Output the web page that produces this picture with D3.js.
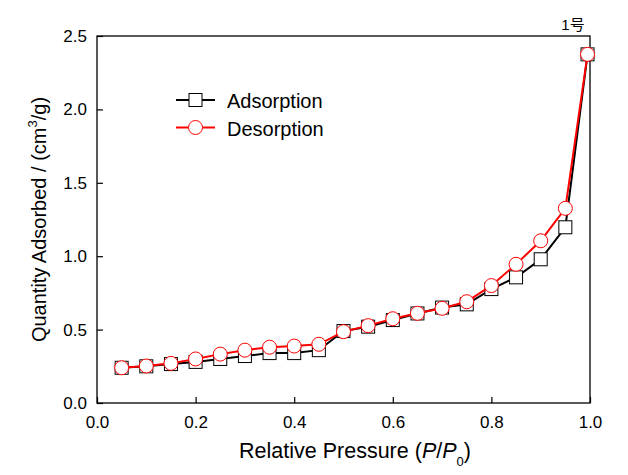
<!DOCTYPE html>
<style>
body { margin: 0; padding: 0; background: #fff; }
text { font-family: "Liberation Sans", Arial, sans-serif; fill: #000; }
</style>
<svg width="628" height="475"></svg>
<script src="https://cdn.jsdelivr.net/npm/d3@7"></script>
<script>

// relative pressure P/P0
var pressure = [0.05, 0.10, 0.15, 0.20, 0.25, 0.30, 0.35, 0.40, 0.45, 0.50,
                0.55, 0.60, 0.65, 0.70, 0.75, 0.80, 0.85, 0.90, 0.95, 0.995];
var adsorption = [0.24, 0.25, 0.265, 0.28, 0.30, 0.32, 0.34, 0.34, 0.36, 0.49,
                  0.52, 0.565, 0.61, 0.65, 0.672, 0.776, 0.856, 0.979, 1.197, 2.375];
var desorption = [0.24, 0.252, 0.27, 0.30, 0.333, 0.36, 0.38, 0.388, 0.40, 0.486,
                  0.527, 0.574, 0.611, 0.645, 0.69, 0.80, 0.945, 1.105, 1.326, 2.375];
var xTicks = [0, 0.2, 0.4, 0.6, 0.8, 1.0];
var yTicks = [0, 0.5, 1.0, 1.5, 2.0, 2.5];
var seriesNames = ["Adsorption", "Desorption"];

var svg = d3.select("svg"),
    margin = {top: 36, right: 38, bottom: 72, left: 97},
    width = +svg.attr("width") - margin.left - margin.right,
    height = +svg.attr("height") - margin.top - margin.bottom,
    g = svg.append("g").attr("transform", "translate(" + margin.left + "," + margin.top + ")");

var x = d3.scaleLinear().domain([0, 1]).range([0, width]);
var y = d3.scaleLinear().domain([0, 2.5]).range([height, 0]);

// frame
g.append("rect")
    .attr("width", width)
    .attr("height", height)
    .attr("fill", "none")
    .attr("stroke", "#000")
    .attr("stroke-width", 1.3);

var xAxis = g.append("g")
    .attr("transform", "translate(0," + height + ")")
    .call(d3.axisBottom(x).tickValues(xTicks).tickFormat(d3.format(".1f")).tickSizeInner(-6).tickSizeOuter(0).tickPadding(13));
var yAxis = g.append("g")
    .call(d3.axisLeft(y).tickValues(yTicks).tickFormat(d3.format(".1f")).tickSizeInner(-6).tickSizeOuter(0).tickPadding(10));

[xAxis, yAxis].forEach(function(a) {
  a.select(".domain").remove();
  a.selectAll("line").attr("stroke", "#000").attr("stroke-width", 1.2);
  a.selectAll("text").attr("font-size", 17).attr("font-family", "Liberation Sans, Arial, sans-serif").attr("fill", "#000");
});

var line = d3.line()
    .x(function(d) { return x(d[0]); })
    .y(function(d) { return y(d[1]); });

var adsData = pressure.map(function(p, i) { return [p, adsorption[i]]; });
var desData = pressure.map(function(p, i) { return [p, desorption[i]]; });

g.append("path")
    .datum(adsData)
    .attr("d", line)
    .attr("fill", "none")
    .attr("stroke", "#000")
    .attr("stroke-width", 2);

g.selectAll(".sq")
    .data(adsData)
    .enter().append("rect")
      .attr("class", "sq")
      .attr("x", function(d) { return x(d[0]) - 6.5; })
      .attr("y", function(d) { return y(d[1]) - 6.5; })
      .attr("width", 13)
      .attr("height", 13)
      .attr("fill", "#fff")
      .attr("stroke", "#000")
      .attr("stroke-width", 1);

g.append("path")
    .datum(desData)
    .attr("d", line)
    .attr("fill", "none")
    .attr("stroke", "#ff0000")
    .attr("stroke-width", 2);

g.selectAll(".ci")
    .data(desData)
    .enter().append("circle")
      .attr("class", "ci")
      .attr("cx", function(d) { return x(d[0]); })
      .attr("cy", function(d) { return y(d[1]); })
      .attr("r", 7)
      .attr("fill", "#fff")
      .attr("stroke", "#ff0000")
      .attr("stroke-width", 1);

// legend
var legend = svg.append("g")
    .selectAll("g")
    .data(seriesNames)
    .enter().append("g")
      .attr("transform", function(d, i) { return "translate(176," + (100 + i * 27.5) + ")"; });

legend.append("line")
    .attr("x1", 0).attr("x2", 39)
    .attr("stroke", function(d, i) { return i ? "#ff0000" : "#000"; })
    .attr("stroke-width", 2);

legend.each(function(d, i) {
  var s = d3.select(this);
  if (i == 0) {
    s.append("rect").attr("x", 13).attr("y", -6.5).attr("width", 13).attr("height", 13)
      .attr("fill", "#fff").attr("stroke", "#000");
  } else {
    s.append("circle").attr("cx", 19.5).attr("r", 7)
      .attr("fill", "#fff").attr("stroke", "#ff0000");
  }
});

legend.append("text")
    .attr("x", 51)
    .attr("y", 8)
    .attr("font-size", 20)
    .text(function(d) { return d; });

// axis titles
var xt = svg.append("text")
    .attr("x", 355)
    .attr("y", 458)
    .attr("text-anchor", "middle")
    .attr("font-size", 21.5);
xt.append("tspan").text("Relative Pressure (");
xt.append("tspan").attr("font-style", "italic").text("P");
xt.append("tspan").text("/");
xt.append("tspan").attr("font-style", "italic").text("P");
xt.append("tspan").attr("font-size", 13).attr("dy", 8).text("0");
xt.append("tspan").attr("dy", -8).text(")");

var yt = svg.append("text")
    .attr("transform", "translate(46," + (margin.top + height / 2) + ") rotate(-90)")
    .attr("text-anchor", "middle")
    .attr("font-size", 20);
yt.append("tspan").text("Quantity Adsorbed / (cm");
yt.append("tspan").attr("font-size", 13).attr("dy", -9).text("3");
yt.append("tspan").attr("dy", 9).text("/g)");

svg.append("text")
    .attr("x", 573)
    .attr("y", 30)
    .attr("text-anchor", "middle")
    .attr("font-size", 15)
    .style("font-family", "'Liberation Sans', 'Noto Sans CJK SC', sans-serif")
    .text("1号");

</script>
